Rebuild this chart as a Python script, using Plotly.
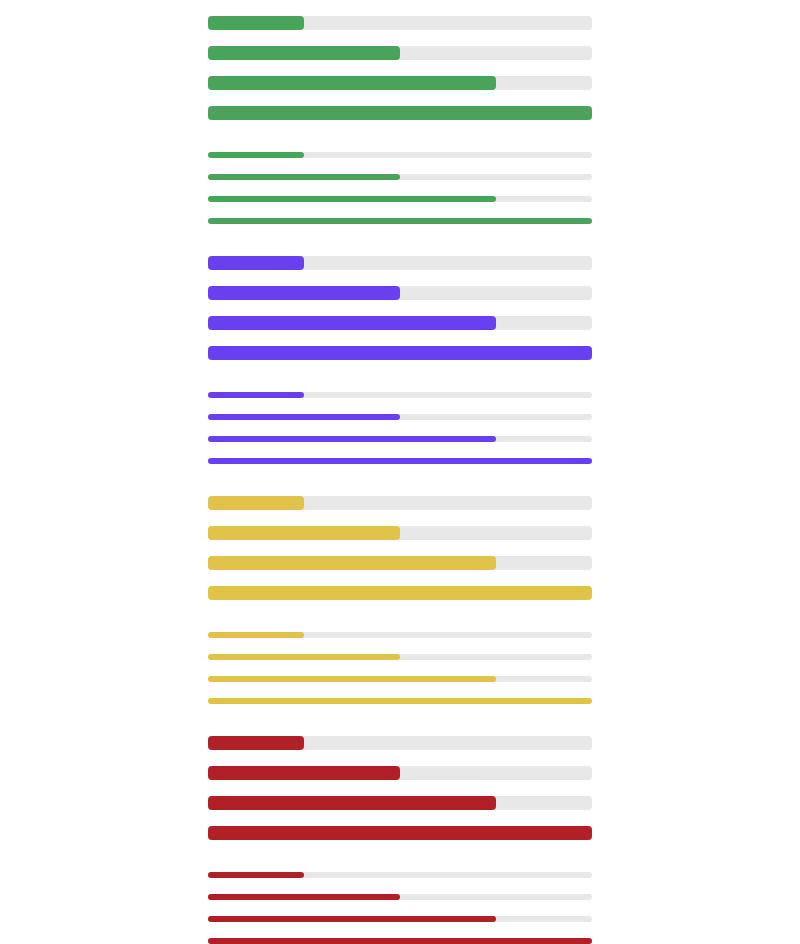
import plotly.graph_objects as go

# Data
colors = ["#4aa35b", "#6840ef", "#e2c34a", "#b11f27"]
values = [25, 50, 75, 100]
track_max = 100
variants = ["thick", "thin"]

# Layout constants (pixels, page coordinates)
W, H = 800, 944
page_offset = 8  # default body margin of the page
thickness = {"thick": 14, "thin": 6}
row_gap = {"thick": 30, "thin": 22}
variant_start = {"thick": 23, "thin": 155}
group_period = 240
radius = {"thick": 4, "thin": 3}
track_color = "#e8e8e8"


def rounded_bar(fig, vals, ys, width, color, r, hover=True):
    # two halves growing outward from the middle so both outer ends get rounded,
    # plus a square middle piece hiding the seam
    halves = [v / 2 for v in vals]
    for sign in (-1, 1):
        fig.add_trace(go.Bar(
            x=[sign * h for h in halves], base=halves, y=ys, orientation="h",
            width=width, marker=dict(color=color, cornerradius=r, line=dict(width=0)),
            hoverinfo="skip", showlegend=False,
        ))
    fig.add_trace(go.Bar(
        x=halves, base=[v / 4 for v in vals], y=ys, orientation="h",
        width=width, marker=dict(color=color, cornerradius=0, line=dict(width=0)),
        customdata=vals, hovertemplate="%{customdata}<extra></extra>" if hover else None,
        hoverinfo=None if hover else "skip", showlegend=False,
    ))


fig = go.Figure()
for g, col in enumerate(colors):
    for v in variants:
        ys = [variant_start[v] + group_period * g + row_gap[v] * i for i in range(len(values))]
        rounded_bar(fig, [track_max] * len(values), ys, thickness[v], track_color, radius[v], hover=False)
        rounded_bar(fig, values, ys, thickness[v], col, radius[v])

fig.update_layout(
    width=W, height=H, barmode="overlay",
    margin=dict(l=200, r=216, t=0, b=0),
    paper_bgcolor="white", plot_bgcolor="white",
    xaxis=dict(range=[0, track_max], visible=False, fixedrange=True),
    yaxis=dict(range=[H + page_offset, page_offset], visible=False, fixedrange=True),
)
fig.write_html("out.html")
